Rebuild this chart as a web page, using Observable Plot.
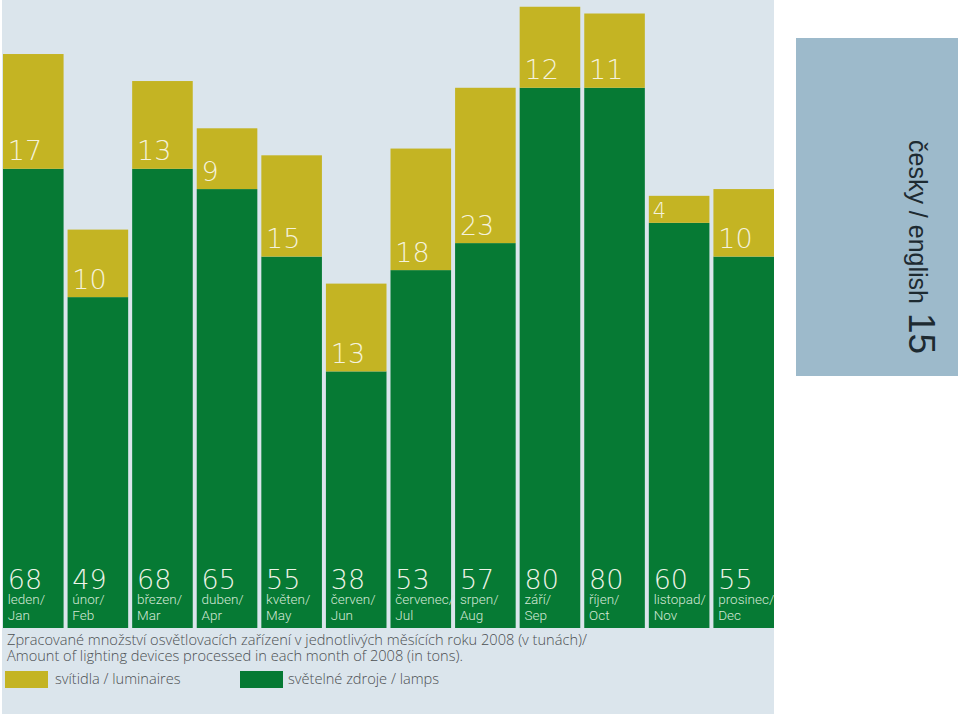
<!DOCTYPE html>
<html>
<head>
<meta charset="utf-8">
<script src="https://cdn.jsdelivr.net/npm/d3@7"></script>
<script src="https://cdn.jsdelivr.net/npm/@observablehq/plot@0.6"></script>
<style>
  body { margin: 0; background: #ffffff; }
  #wrap { position: relative; width: 959px; height: 717px; overflow: hidden; background: #ffffff; }
  #panel { position: absolute; left: 2px; top: 0; width: 772px; height: 714px; background: #dbe5ec; }
  #chart { position: absolute; left: 0; top: 0; }
  #side { position: absolute; left: 796px; top: 38px; width: 162px; height: 338px; background: #9dbacb; }
  #sideText { position: absolute; left: 936px; top: 140px; transform-origin: 0 0; transform: rotate(90deg);
    white-space: nowrap; font-family: "Liberation Sans", Arial, sans-serif; font-size: 25px; line-height: 30px; color: #1d2a31; }
  #sideText .num { font-size: 37px; margin-left: 9px; }
  .cap { position: absolute; left: 7px; font-family: "Open Sans", sans-serif; font-weight: 300; font-size: 14.6px; color: #4b4f52; white-space: nowrap; }
  .sw { position: absolute; width: 43px; height: 17px; }
  .lg { position: absolute; font-family: "Open Sans", sans-serif; font-weight: 300; font-size: 14.6px; color: #4b4f52; white-space: nowrap; }
</style>
</head>
<body>
<div id="wrap">
  <div id="panel"></div>
  <div id="chart"></div>
  <div id="side"></div>
  <div id="sideText">česky / english<span class="num">15</span></div>
  <div class="cap" id="cap1" style="top:629px"></div>
  <div class="cap" id="cap2" style="top:645px"></div>
  <div class="sw" id="sw1" style="left:5px; top:671px"></div>
  <div class="lg" id="lg1" style="left:55px; top:668px"></div>
  <div class="sw" id="sw2" style="left:240px; top:671px"></div>
  <div class="lg" id="lg2" style="left:288px; top:668px"></div>
</div>
<script>
// ---- data ----
const monthsCz = ["leden/", "únor/", "březen/", "duben/", "květen/", "červen/", "červenec/", "srpen/", "září/", "říjen/", "listopad/", "prosinec/"];
const monthsEn = ["Jan", "Feb", "Mar", "Apr", "May", "Jun", "Jul", "Aug", "Sep", "Oct", "Nov", "Dec"];
const lamps = [68, 49, 68, 65, 55, 38, 53, 57, 80, 80, 60, 55];
const luminaires = [17, 10, 13, 9, 15, 13, 18, 23, 12, 11, 4, 10];
const seriesNames = ["světelné zdroje / lamps", "svítidla / luminaires"];
const captionLines = [
  "Zpracované množství osvětlovacích zařízení v jednotlivých měsících roku 2008 (v tunách)/",
  "Amount of lighting devices processed in each month of 2008 (in tons)."
];

const GREEN = "#067a34";
const YELLOW = "#c4b423";

// ---- tables built from the arrays ----
const rows = [];
monthsEn.forEach((m, i) => rows.push({month: m, series: seriesNames[0], value: lamps[i]}));
monthsEn.forEach((m, i) => rows.push({month: m, series: seriesNames[1], value: luminaires[i]}));
const months = monthsEn.map((m, i) => ({month: m, cz: monthsCz[i], lamps: lamps[i], lum: luminaires[i]}));

const numFont = "'DejaVu Sans', sans-serif";
const lblFont = "Roboto, sans-serif";

const chart = Plot.plot({
  width: 775,
  height: 628,
  marginLeft: 3,
  marginRight: 1,
  marginTop: 0,
  marginBottom: 0,
  style: {background: "transparent", overflow: "visible"},
  x: {domain: monthsEn, paddingInner: 0.062, paddingOuter: 0, round: false, axis: null},
  y: {domain: [0, 93], axis: null},
  color: {domain: seriesNames, range: [GREEN, YELLOW]},
  marks: [
    Plot.barY(rows, {x: "month", y: "value", fill: "series"}),
    // luminaire values (regular segments)
    Plot.text(months.filter(d => d.lum >= 8), {
      x: "month", y: "lamps", text: d => String(d.lum),
      textAnchor: "start", lineAnchor: "bottom", dx: -26, dy: -9,
      fontSize: 27, fontFamily: numFont, fontWeight: 200, fill: "#f4f2dc"
    }),
    // luminaire values (thin segments)
    Plot.text(months.filter(d => d.lum < 8), {
      x: "month", y: "lamps", text: d => String(d.lum),
      textAnchor: "start", lineAnchor: "bottom", dx: -27, dy: -5,
      fontSize: 21, fontFamily: numFont, fontWeight: 200, fill: "#f4f2dc"
    }),
    // lamp values at the bottom
    Plot.text(months, {
      x: "month", y: 0, text: d => String(d.lamps),
      textAnchor: "start", lineAnchor: "bottom", dx: -26, dy: -40,
      fontSize: 27, fontFamily: numFont, fontWeight: 200, fill: "#eef3e8"
    }),
    Plot.text(months, {
      x: "month", y: 0, text: "cz",
      textAnchor: "start", lineAnchor: "bottom", dx: -26, dy: -25,
      fontSize: 13.5, fontFamily: lblFont, fontWeight: 300, fill: "#d3e8d6"
    }),
    Plot.text(months, {
      x: "month", y: 0, text: "month",
      textAnchor: "start", lineAnchor: "bottom", dx: -26, dy: -9,
      fontSize: 13.5, fontFamily: lblFont, fontWeight: 300, fill: "#d3e8d6"
    })
  ]
});
document.getElementById("chart").appendChild(chart);

document.getElementById("cap1").textContent = captionLines[0];
document.getElementById("cap2").textContent = captionLines[1];
document.getElementById("sw1").style.background = YELLOW;
document.getElementById("sw2").style.background = GREEN;
document.getElementById("lg1").textContent = seriesNames[1];
document.getElementById("lg2").textContent = seriesNames[0];
</script>
</body>
</html>
